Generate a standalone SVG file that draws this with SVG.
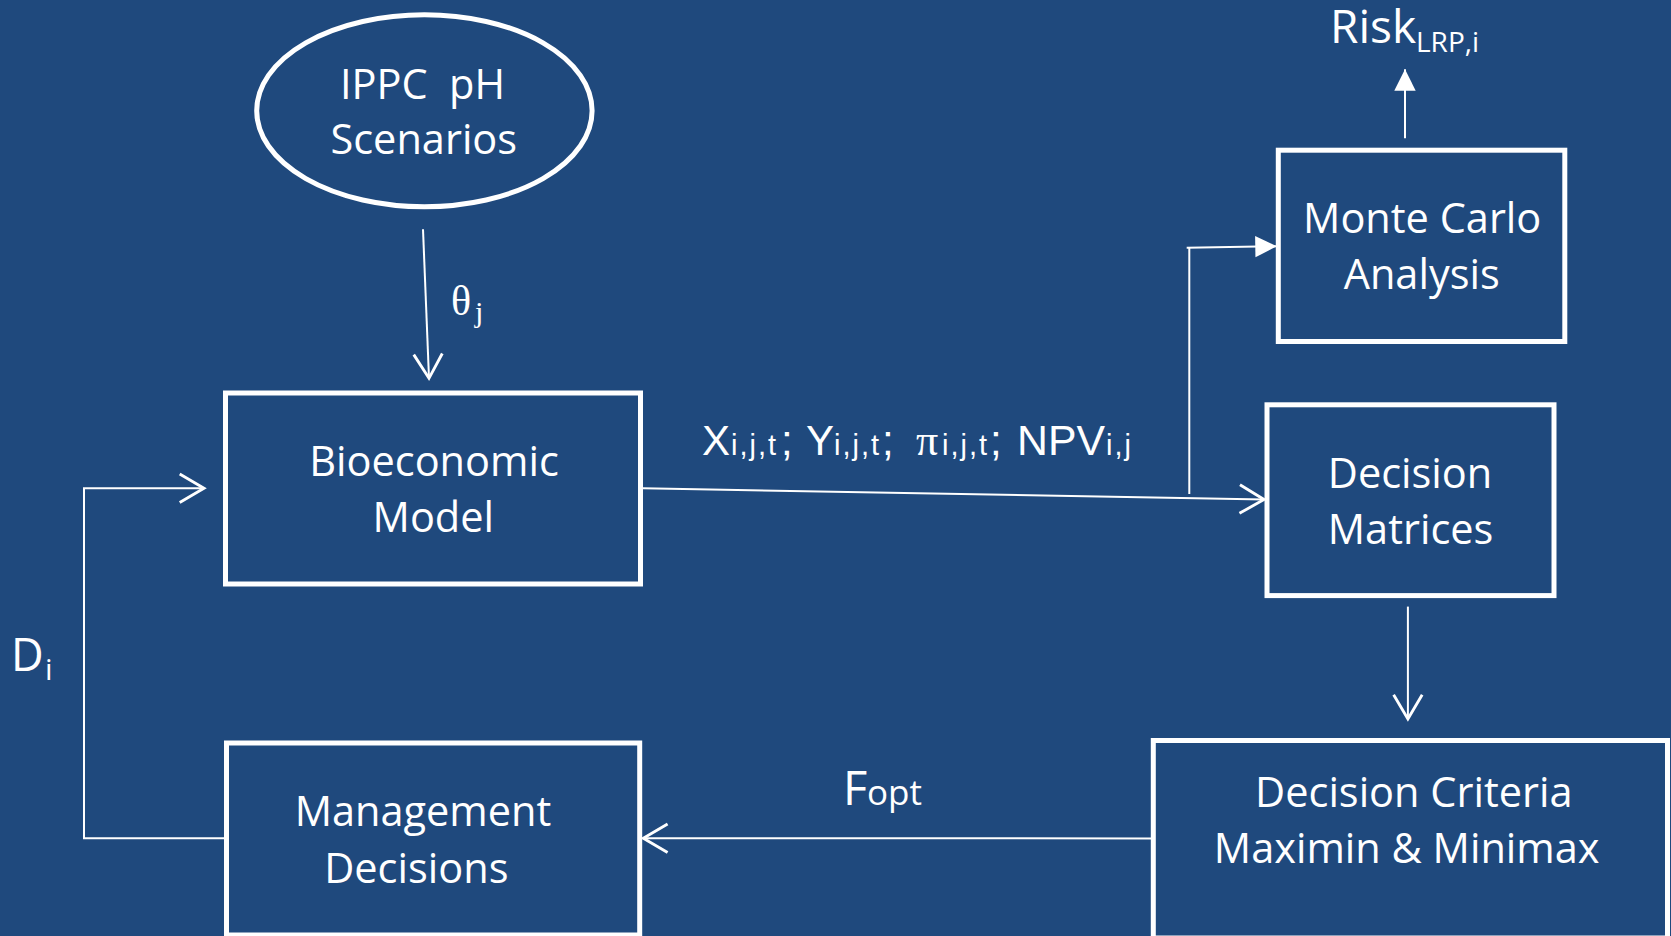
<svg xmlns="http://www.w3.org/2000/svg" width="1671" height="936" viewBox="0 0 1671 936">
<style>
.bg{fill:#1F497D}
.box{fill:none;stroke:#FFFFFF;stroke-width:5}
.con{fill:none;stroke:#FFFFFF;stroke-width:2}
.nt{font-family:"Open Sans","Noto Sans",sans-serif;font-size:41.5px;fill:#FFFFFF;text-anchor:middle}
.lb{font-family:"Open Sans","Noto Sans",sans-serif;fill:#FFFFFF}
.ls{font-family:"Liberation Sans",Arial,sans-serif;fill:#FFFFFF}
.sub{font-family:"Liberation Sans",Arial,sans-serif;fill:#FFFFFF;font-size:29px;letter-spacing:2px}
.lr{font-family:"Liberation Serif","Times New Roman",serif;fill:#FFFFFF}
</style>
<defs>
<marker id="open" markerUnits="userSpaceOnUse" markerWidth="40" markerHeight="40" viewBox="-20 -14 24 28" refX="0" refY="0" orient="auto" overflow="visible">
<path d="M-17,-10 L0,0 L-17,10" fill="none" stroke="#FFFFFF" stroke-width="2"/>
</marker>
<marker id="solid" markerUnits="userSpaceOnUse" markerWidth="40" markerHeight="40" viewBox="-20 -14 24 28" refX="0" refY="0" orient="auto" overflow="visible">
<path d="M-15,-7.5 L0,0 L-15,7.5 Z" fill="#FFFFFF"/>
</marker>
</defs>
<rect class="bg" x="0" y="0" width="1671" height="936"/>

<g id="connectors">
<line class="con" x1="423" y1="229.3" x2="429" y2="378.3" marker-end="url(#open)"/>
<line class="con" x1="643" y1="488.3" x2="1264" y2="499.5" marker-end="url(#open)"/>
<line class="con" x1="1189.3" y1="494" x2="1189.3" y2="248"/>
<line class="con" x1="1186.7" y1="247.7" x2="1276.7" y2="246.3" marker-end="url(#solid)"/>
<line class="con" x1="1405" y1="138.3" x2="1405" y2="69.3" marker-end="url(#solid)"/>
<line class="con" x1="1407.9" y1="606.6" x2="1407.9" y2="719" marker-end="url(#open)"/>
<line class="con" x1="1151" y1="838.4" x2="643.3" y2="838.3" marker-end="url(#open)"/>
<polyline class="con" points="224,838.3 84,838.3 84,488.3 204,488.3" marker-end="url(#open)"/>
</g>

<g id="ippc">
<ellipse class="box" cx="424.4" cy="110.7" rx="167.7" ry="96"/>
<text class="nt" xml:space="preserve" style="white-space:pre" x="422.5" y="99">IPPC  pH</text>
<text class="nt" x="423.8" y="154">Scenarios</text>
</g>

<g id="bioeconomic">
<rect class="box" x="225.5" y="393" width="415" height="191"/>
<text class="nt" x="434" y="476">Bioeconomic</text>
<text class="nt" x="433.3" y="532.3">Model</text>
</g>

<g id="management">
<rect class="box" x="226.5" y="743" width="413.2" height="192"/>
<text class="nt" x="423" y="826">Management</text>
<text class="nt" x="416.3" y="882.7">Decisions</text>
</g>

<g id="montecarlo">
<rect class="box" x="1278.3" y="150.2" width="286.5" height="191.3"/>
<text class="nt" x="1422.2" y="232.7">Monte Carlo</text>
<text class="nt" x="1421.7" y="289.3">Analysis</text>
</g>

<g id="matrices">
<rect class="box" x="1267" y="404.8" width="287" height="190.8"/>
<text class="nt" x="1410" y="487.5">Decision</text>
<text class="nt" x="1410.6" y="543.9">Matrices</text>
</g>

<g id="criteria">
<rect class="box" x="1153.3" y="740.5" width="514.2" height="197.5"/>
<text class="nt" x="1413.8" y="806.8">Decision Criteria</text>
<text class="nt" x="1406.7" y="862.5">Maximin &amp; Minimax</text>
</g>

<g id="labels">
<text class="lr" x="451" y="315" font-size="42">θ</text>
<text class="lr" x="475" y="321.5" font-size="30">j</text>

<text class="ls" font-size="42" x="702" y="455">X</text>
<text class="sub" x="731" y="455">i,j,t</text>
<text class="ls" font-size="42" x="781" y="455">;</text>
<text class="ls" font-size="42" x="806" y="455">Y</text>
<text class="sub" x="834" y="455">i,j,t</text>
<text class="ls" font-size="42" x="882" y="455">;</text>
<text class="lr" font-size="44" x="916" y="455">π</text>
<text class="sub" x="942" y="455">i,j,t</text>
<text class="ls" font-size="42" x="990" y="455">;</text>
<text class="ls" font-size="42" x="1017" y="455" textLength="88" lengthAdjust="spacingAndGlyphs">NPV</text>
<text class="sub" x="1106" y="455">i,j</text>

<text class="lb" font-size="46" x="1330" y="43.3">Risk</text>
<text class="lb" font-size="28" x="1416" y="51.7">LRP,i</text>

<text class="lb" font-size="45" x="11" y="670.7">D</text>
<text class="lb" font-size="30" x="45" y="680">i</text>

<text class="lb" font-size="47" x="843" y="805">F</text>
<text class="lb" font-size="35" x="867" y="805">opt</text>
</g>
</svg>
